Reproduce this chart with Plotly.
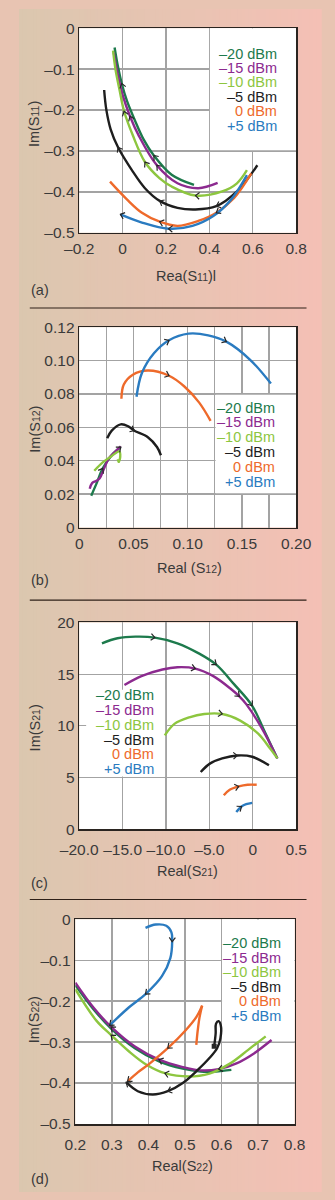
import math
import plotly.graph_objects as go

W, H = 335, 1200
FONT = "Liberation Sans, Arial, Helvetica, sans-serif"
TXT = "#3a3a3a"
FS = 14.5        # key, titles, panel tags
FS_TICK = 15.5   # axis numbers
SUB = "<span style='font-size:10.5px'>%s</span>"

LABELS = ["–20 dBm", "–15 dBm", "–10 dBm", "–5 dBm", "0 dBm", "+5 dBm"]
COLORS = ["#1d7a4c", "#8c2a8f", "#8dc63f", "#1e1e1e", "#ee6a2b", "#2a7bc0"]

# ---------------- (a) S11, points in sweep order ----------------
s11_re_m20 = [0.329, 0.226, 0.144, 0.096, 0.055, 0.021, -0.004, -0.021, -0.037]
s11_im_m20 = [-0.383, -0.358, -0.311, -0.271, -0.223, -0.179, -0.135, -0.095, -0.047]
s11_re_m15 = [0.438, 0.349, 0.253, 0.158, 0.075, 0.034, 0.0, -0.023, -0.041]
s11_im_m15 = [-0.378, -0.391, -0.379, -0.335, -0.263, -0.215, -0.163, -0.111, -0.059]
s11_re_m10 = [0.573, 0.527, 0.459, 0.336, 0.226, 0.171, 0.103, 0.048, 0.007, -0.014, -0.032, -0.044]
s11_im_m10 = [-0.347, -0.379, -0.399, -0.409, -0.387, -0.367, -0.327, -0.263, -0.203, -0.151, -0.103, -0.055]
s11_re_m5 = [0.621, 0.527, 0.432, 0.336, 0.253, 0.171, 0.103, 0.048, -0.021, -0.055, -0.075, -0.085]
s11_im_m5 = [-0.335, -0.399, -0.435, -0.443, -0.439, -0.422, -0.391, -0.351, -0.291, -0.247, -0.199, -0.151]
s11_re_0 = [0.593, 0.514, 0.432, 0.349, 0.253, 0.171, 0.089, 0.021, -0.058]
s11_im_0 = [-0.355, -0.415, -0.451, -0.471, -0.483, -0.473, -0.451, -0.419, -0.375]
s11_re_p5 = [0.573, 0.500, 0.418, 0.322, 0.212, 0.089, -0.010]
s11_im_p5 = [-0.359, -0.419, -0.459, -0.483, -0.490, -0.475, -0.455]

# ---------------- (b) S12 ----------------
s12_re_m20 = [0.0111, 0.0161, 0.0217, 0.0300, 0.0383]
s12_im_m20 = [0.0191, 0.0266, 0.0354, 0.0433, 0.0482]
s12_re_m15 = [0.0097, 0.0119, 0.0156, 0.0189, 0.0217, 0.0272, 0.0328, 0.0383]
s12_im_m15 = [0.0232, 0.0266, 0.0279, 0.0295, 0.0334, 0.0413, 0.0452, 0.0486]
s12_re_m10 = [0.0139, 0.0217, 0.0300, 0.0369, 0.0378, 0.0364, 0.0356]
s12_im_m10 = [0.0340, 0.0390, 0.0429, 0.0456, 0.0423, 0.0393, 0.0409]
s12_re_m5 = [0.0258, 0.0300, 0.0383, 0.0453, 0.0508, 0.0633, 0.0717, 0.0753]
s12_im_m5 = [0.0535, 0.0580, 0.0618, 0.0606, 0.0580, 0.0541, 0.0482, 0.0433]
s12_re_0 = [0.0389, 0.0411, 0.0494, 0.0633, 0.0828, 0.0967, 0.1106, 0.1211]
s12_im_0 = [0.0771, 0.0856, 0.0915, 0.0940, 0.0909, 0.0846, 0.0748, 0.0639]
s12_re_p5 = [0.0528, 0.0578, 0.0689, 0.0828, 0.1008, 0.1189, 0.1356, 0.1578, 0.1767]
s12_im_p5 = [0.0783, 0.0925, 0.1043, 0.1121, 0.1161, 0.1151, 0.1113, 0.1003, 0.0862]

# ---------------- (c) S21 ----------------
s21_re_m20 = [-17.38, -15.59, -13.52, -11.28, -8.69, -6.28, -4.21, -2.14, -0.07, 1.31, 2.83]
s21_im_m20 = [17.99, 18.47, 18.63, 18.54, 17.99, 17.04, 15.92, 14.01, 11.94, 9.55, 6.85]
s21_re_m15 = [-14.79, -12.83, -10.41, -8.69, -6.62, -4.55, -2.48, -1.55, -0.76, 0.97, 2.83]
s21_im_m15 = [13.95, 14.81, 15.45, 15.67, 15.54, 14.81, 13.54, 12.85, 12.10, 9.87, 6.85]
s21_re_m10 = [-10.14, -9.03, -7.31, -5.59, -3.52, -1.45, 0.62, 2.0, 2.83]
s21_im_m10 = [9.08, 10.19, 10.83, 11.15, 11.15, 10.51, 9.24, 7.80, 6.85]
s21_re_m5 = [-6.0, -4.9, -3.52, -1.79, -0.07, 1.86]
s21_im_m5 = [5.54, 6.37, 6.85, 7.13, 7.01, 6.18]
s21_re_0 = [-3.34, -2.66, -1.62, -0.59, 0.45]
s21_im_0 = [3.28, 3.82, 4.14, 4.30, 4.30]
s21_re_p5 = [-1.9, -1.3, -0.76, -0.07]
s21_im_p5 = [1.66, 2.2, 2.42, 2.55]

# ---------------- (d) S22 ----------------
s22_re_m20 = [0.627, 0.584, 0.543, 0.494, 0.429, 0.363, 0.298, 0.249, 0.2]
s22_im_m20 = [-0.368, -0.372, -0.372, -0.365, -0.347, -0.315, -0.267, -0.219, -0.161]
s22_re_m15 = [0.737, 0.690, 0.641, 0.592, 0.543, 0.494, 0.429, 0.363, 0.298, 0.249, 0.2]
s22_im_m15 = [-0.295, -0.327, -0.352, -0.366, -0.369, -0.361, -0.343, -0.311, -0.263, -0.215, -0.155]
s22_re_m10 = [0.721, 0.673, 0.624, 0.567, 0.510, 0.445, 0.396, 0.347, 0.298, 0.257, 0.2]
s22_im_m10 = [-0.286, -0.319, -0.352, -0.377, -0.384, -0.376, -0.356, -0.323, -0.283, -0.247, -0.171]
s22_re_m5 = [0.580, 0.584, 0.585, 0.592, 0.598, 0.597, 0.588, 0.567, 0.535, 0.494, 0.453, 0.412, 0.371, 0.339]
s22_im_m5 = [-0.310, -0.279, -0.255, -0.249, -0.259, -0.291, -0.315, -0.339, -0.368, -0.400, -0.420, -0.428, -0.420, -0.398]
s22_re_0 = [0.531, 0.535, 0.540, 0.547, 0.531, 0.502, 0.453, 0.404, 0.371, 0.343]
s22_im_0 = [-0.307, -0.271, -0.239, -0.211, -0.239, -0.271, -0.315, -0.352, -0.374, -0.396]
s22_re_p5 = [0.392, 0.420, 0.449, 0.463, 0.465, 0.460, 0.437, 0.392, 0.347, 0.294]
s22_im_p5 = [-0.021, -0.013, -0.016, -0.032, -0.055, -0.095, -0.139, -0.183, -0.215, -0.259]

# ---------------- tick labels ----------------
a_xticks = [-0.2, 0, 0.2, 0.4, 0.6, 0.8]
a_xlabels = ["–0.2", "0", "0.2", "0.4", "0.6", "0.8"]
a_yticks = [0, -0.1, -0.2, -0.3, -0.4, -0.5]
a_ylabels = ["0", "–0.1", "–0.2", "–0.3", "–0.4", "–0.5"]
b_xticks = [0, 0.05, 0.1, 0.15, 0.2]
b_xlabels = ["0", "0.05", "0.10", "0.15", "0.20"]
b_xminor = 0.025
b_yticks = [0, 0.02, 0.04, 0.06, 0.08, 0.10, 0.12]
b_ylabels = ["0", "0.02", "0.04", "0.06", "0.08", "0.10", "0.12"]
c_xticks = [-20, -15, -10, -5, 0, 5]
c_xlabels = ["–20.0", "–15.0", "–10.0", "–5.0", "0", "0.5"]
c_yticks = [0, 5, 10, 15, 20]
c_ylabels = ["0", "5", "10", "15", "20"]
d_xticks = [0.2, 0.3, 0.4, 0.5, 0.6, 0.7, 0.8]
d_xlabels = ["0.2", "0.3", "0.4", "0.5", "0.6", "0.7", "0.8"]
d_yticks = [0, -0.1, -0.2, -0.3, -0.4, -0.5]
d_ylabels = ["0", "–0.1", "–0.2", "–0.3", "–0.4", "–0.5"]

# ---------------- panel layout (pixel boxes: left, right, top, bottom) ----------------
panels = [
    dict(box=(67, 308.5, 19.5, 227), xr=(-0.2, 0.8), yr=(-0.5, 0),
         xt=(a_xticks, a_xlabels), yt=(a_yticks, a_ylabels), xminor=None, xstand=1,
         series=[(s11_re_m20, s11_im_m20, [2, 6]), (s11_re_m15, s11_im_m15, [3, 5]),
                 (s11_re_m10, s11_im_m10, [3, 6, 8]), (s11_re_m5, s11_im_m5, [2, 5, 8]),
                 (s11_re_0, s11_im_0, [2, 5]), (s11_re_p5, s11_im_p5, [4, 6])],
         box_white=(0.4025, 0.8, -0.298, 0.0),
         legend=dict(x=289, ys=[45.3, 59.9, 74.5, 89.1, 103.7, 118.5]),
         xtitle="Rea(S" + SUB % "11" + ")l", ytitle="Im(S" + SUB % "11" + ")",
         xtitle_pos=(186, 270.5), ytitle_pos=(17.5, 117), tag="(a)", tag_pos=(11, 285)),
    dict(box=(67, 308.5, 322.7, 526), xr=(0, 0.2), yr=(0, 0.12),
         xt=(b_xticks, b_xlabels), yt=(b_yticks, b_ylabels), xminor=b_xminor, xstand=1,
         series=[(s12_re_m20, s12_im_m20, [2, 4]), (s12_re_m15, s12_im_m15, []),
                 (s12_re_m10, s12_im_m10, []), (s12_re_m5, s12_im_m5, [4]),
                 (s12_re_0, s12_im_0, [4]), (s12_re_p5, s12_im_p5, [3, 6])],
         box_white=(0.1257, 0.2, 0.0205, 0.0795),
         legend=dict(x=287.5, ys=[404.3, 419.3, 434.3, 449.3, 464.3, 479.3]),
         xtitle="Real (S" + SUB % "12" + ")", ytitle="Im(S" + SUB % "12" + ")",
         xtitle_pos=(189.5, 567), ytitle_pos=(17.5, 426), tag="(b)", tag_pos=(11, 579)),
    dict(box=(67, 308.5, 622.3, 832), xr=(-20, 5), yr=(0, 20),
         xt=(c_xticks, c_xlabels), yt=(c_yticks, c_ylabels), xminor=None, xstand=6,
         series=[(s21_re_m20, s21_im_m20, [3, 6, 8]), (s21_re_m15, s21_im_m15, [4, 7]),
                 (s21_re_m10, s21_im_m10, [4]), (s21_re_m5, s21_im_m5, [3]),
                 (s21_re_0, s21_im_0, [2]), (s21_re_p5, s21_im_p5, [1])],
         box_white=(-19.2, -10.1, 5.1, 13.5),
         legend=dict(x=152.5, ys=[695.5, 711, 726, 741, 755.7, 770.5]),
         xtitle="Real(S" + SUB % "21" + ")", ytitle="Im(S" + SUB % "21" + ")",
         xtitle_pos=(187.5, 874), ytitle_pos=(17.5, 729), tag="(c)", tag_pos=(11, 887)),
    dict(box=(62.7, 306.7, 923.3, 1131), xr=(0.2, 0.8), yr=(-0.5, 0),
         xt=(d_xticks, d_xlabels), yt=(d_yticks, d_ylabels), xminor=None, xstand=6,
         series=[(s22_re_m20, s22_im_m20, []), (s22_re_m15, s22_im_m15, [3, 6, 8]),
                 (s22_re_m10, s22_im_m10, [5, 8]), (s22_re_m5, s22_im_m5, [10, 13]),
                 (s22_re_0, s22_im_0, [6, 9]), (s22_re_p5, s22_im_p5, [4, 7, 9])],
         box_white=(0.6015, 0.8, -0.2985, 0.0),
         legend=dict(x=294, ys=[947.7, 962.7, 977.3, 992, 1006.7, 1021.7]),
         xtitle="Real(S" + SUB % "22" + ")", ytitle="Im(S" + SUB % "22" + ")",
         xtitle_pos=(182.5, 1174), ytitle_pos=(17.5, 1025), tag="(d)", tag_pos=(11, 1187)),
]

# sharp turning points (panel, series) -> vertex indices where a curve is split
cusps = {(4, 4): [3]}
# series whose sweep start is marked with a small square
start_marks = {(4, 3)}

BG_LEFT = (219, 199, 175)
BG_RIGHT = (244, 192, 181)
GRID = "#a3a3a3"
CHEVRON_LEN = 5.5                 # arm length in px
CHEVRON_HALF = math.radians(38)   # half opening angle


def px(x):
    return x / W


def py(y):
    return 1 - y / H


fig = go.Figure()
shapes = []
annotations = []

# page background: horizontal tan-to-pink gradient
N_STRIPS = 84
for k in range(N_STRIPS):
    t = k / (N_STRIPS - 1)
    c = tuple(round(BG_LEFT[i] + (BG_RIGHT[i] - BG_LEFT[i]) * t) for i in range(3))
    shapes.append(dict(type="rect", xref="paper", yref="paper", layer="below",
                       x0=k / N_STRIPS, x1=(k + 1.5) / N_STRIPS, y0=0, y1=1,
                       line=dict(width=0), fillcolor="rgb(%d,%d,%d)" % c))

# rules between the panels
for yline in (303.3, 599.7, 903.3):
    shapes.append(dict(type="line", xref="paper", yref="paper", layer="below",
                       x0=px(12), x1=px(320), y0=py(yline), y1=py(yline),
                       line=dict(color="#2e2018", width=1.2)))

layout_axes = {}
for n, p in enumerate(panels, start=1):
    xa = "x" if n == 1 else "x%d" % n
    ya = "y" if n == 1 else "y%d" % n
    l, r, t, b = p["box"]
    common = dict(showgrid=True, gridcolor=GRID, gridwidth=1.3, zeroline=False,
                  showline=True, mirror=True, linecolor="#2a2420", linewidth=1.6,
                  ticks="", fixedrange=True,
                  tickfont=dict(family=FONT, size=FS_TICK, color=TXT))
    xaxis = dict(common, domain=[px(l), px(r)], range=list(p["xr"]), anchor=ya,
                 tickmode="array", tickvals=p["xt"][0], ticktext=p["xt"][1],
                 ticklabelstandoff=p["xstand"])
    if p["xminor"]:
        xaxis["minor"] = dict(dtick=p["xminor"], tick0=0, showgrid=True,
                              gridcolor=GRID, gridwidth=1.3, ticks="")
    layout_axes["xaxis" if n == 1 else "xaxis%d" % n] = xaxis
    layout_axes["yaxis" if n == 1 else "yaxis%d" % n] = dict(
        common, domain=[py(b), py(t)], range=list(p["yr"]), anchor=xa,
        tickmode="array", tickvals=p["yt"][0], ticktext=p["yt"][1])

    # white plotting area and the clear patch behind the key
    shapes.append(dict(type="rect", xref=xa + " domain", yref=ya + " domain", layer="below",
                       x0=0, x1=1, y0=0, y1=1, line=dict(width=0), fillcolor="white"))
    bx0, bx1, by0, by1 = p["box_white"]
    shapes.append(dict(type="rect", xref=xa, yref=ya, layer="between",
                       x0=bx0, x1=bx1, y0=by0, y1=by1, line=dict(width=0), fillcolor="white"))

    # px per data unit, used to keep the chevrons the same size in every panel
    sx = (r - l) / (p["xr"][1] - p["xr"][0])
    sy = (b - t) / (p["yr"][1] - p["yr"][0])

    chev_x, chev_y = [], []
    for si, (xs, ys, arrows) in enumerate(p["series"]):
        cuts = [0] + cusps.get((n, si), []) + [len(xs) - 1]
        for c0, c1 in zip(cuts[:-1], cuts[1:]):
            fig.add_trace(go.Scatter(
                x=xs[c0:c1 + 1], y=ys[c0:c1 + 1], mode="lines", xaxis=xa, yaxis=ya,
                line=dict(color=COLORS[si], width=2.4, shape="spline", smoothing=1.0),
                showlegend=False, hoverinfo="skip"))
        if (n, si) in start_marks:
            fig.add_trace(go.Scatter(
                x=xs[:1], y=ys[:1], mode="markers", xaxis=xa, yaxis=ya,
                marker=dict(symbol="square", size=5, color="#262626"),
                showlegend=False, hoverinfo="skip"))
        # direction chevrons along the sweep, tip on the curve
        for i in arrows:
            i0, i1 = max(i - 1, 0), min(i + 1, len(xs) - 1)
            dx = (xs[i1] - xs[i0]) * sx
            dy = (ys[i1] - ys[i0]) * sy
            ln = math.hypot(dx, dy) or 1.0
            ux, uy = -dx / ln, -dy / ln
            for sgn in (1, -1):
                ca, sa = math.cos(sgn * CHEVRON_HALF), math.sin(sgn * CHEVRON_HALF)
                ax_ = (ux * ca - uy * sa) * CHEVRON_LEN
                ay_ = (ux * sa + uy * ca) * CHEVRON_LEN
                if sgn == 1:
                    chev_x += [xs[i] + ax_ / sx, xs[i]]
                    chev_y += [ys[i] + ay_ / sy, ys[i]]
                else:
                    chev_x += [xs[i] + ax_ / sx, None]
                    chev_y += [ys[i] + ay_ / sy, None]
    fig.add_trace(go.Scatter(
        x=chev_x, y=chev_y, mode="lines", xaxis=xa, yaxis=ya,
        line=dict(color="#262626", width=1.2), showlegend=False, hoverinfo="skip"))

    # series key
    for si, yy in enumerate(p["legend"]["ys"]):
        annotations.append(dict(
            x=px(p["legend"]["x"]), y=py(yy), xref="paper", yref="paper",
            xanchor="right", yanchor="middle", showarrow=False, text=LABELS[si],
            font=dict(family=FONT, size=FS, color=COLORS[si])))

    annotations.append(dict(
        x=px(p["xtitle_pos"][0]), y=py(p["xtitle_pos"][1]), xref="paper", yref="paper",
        xanchor="center", yanchor="middle", showarrow=False, text=p["xtitle"],
        font=dict(family=FONT, size=FS, color=TXT)))
    annotations.append(dict(
        x=px(p["ytitle_pos"][0]), y=py(p["ytitle_pos"][1]), xref="paper", yref="paper",
        xanchor="center", yanchor="middle", showarrow=False, text=p["ytitle"],
        textangle=-90, font=dict(family=FONT, size=FS, color=TXT)))
    annotations.append(dict(
        x=px(p["tag_pos"][0]), y=py(p["tag_pos"][1]), xref="paper", yref="paper",
        xanchor="left", yanchor="middle", showarrow=False, text=p["tag"],
        font=dict(family=FONT, size=FS, color=TXT)))

fig.update_layout(
    width=W, height=H, autosize=False,
    margin=dict(l=0, r=0, t=0, b=0, pad=0),
    paper_bgcolor="rgb(232,196,178)", plot_bgcolor="white",
    font=dict(family=FONT, size=FS, color=TXT),
    shapes=shapes, annotations=annotations, showlegend=False,
    **layout_axes,
)

fig.write_html("out.html", config={"displayModeBar": False, "staticPlot": True})
